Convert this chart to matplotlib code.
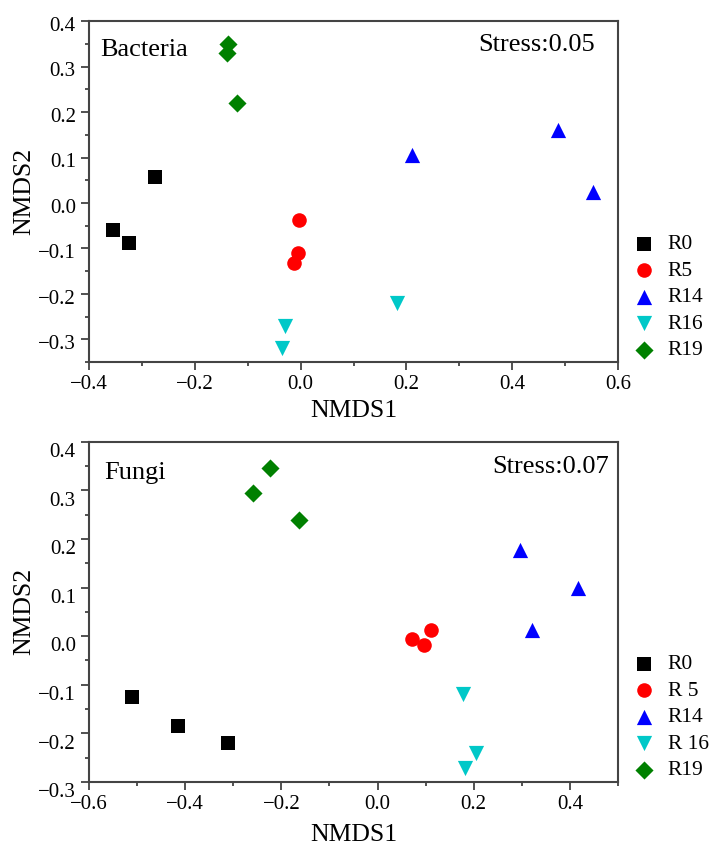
import matplotlib
matplotlib.use("Agg")
import matplotlib.pyplot as plt
import matplotlib.transforms as mtransforms
from matplotlib.ticker import MultipleLocator

plt.rcParams['font.family'] = ['Liberation Serif', 'DejaVu Serif']

groups = ["R0", "R5", "R14", "R16", "R19"]
fungi_labels = ["R0", "R 5", "R14", "R 16", "R19"]
colors = ["black", "red", "blue", "#00c8c8", "green"]
markers = ["s", "o", "^", "v", "D"]
sizes = [95, 110, 120, 120, 85]

# Bacteria NMDS coordinates
bac_x = {
    "R0": [-0.355, -0.325, -0.275],
    "R5": [-0.003, -0.005, -0.012],
    "R14": [0.21, 0.486, 0.552],
    "R16": [-0.03, -0.035, 0.183],
    "R19": [-0.137, -0.14, -0.12],
}
bac_y = {
    "R0": [-0.06, -0.088, 0.058],
    "R5": [-0.038, -0.11, -0.133],
    "R14": [0.106, 0.16, 0.025],
    "R16": [-0.27, -0.32, -0.22],
    "R19": [0.35, 0.33, 0.22],
}

# Fungi NMDS coordinates
fun_x = {
    "R0": [-0.51, -0.414, -0.311],
    "R5": [0.072, 0.097, 0.111],
    "R14": [0.296, 0.416, 0.321],
    "R16": [0.177, 0.205, 0.182],
    "R19": [-0.224, -0.258, -0.163],
}
fun_y = {
    "R0": [-0.126, -0.186, -0.22],
    "R5": [-0.006, -0.018, 0.013],
    "R14": [0.178, 0.1, 0.012],
    "R16": [-0.119, -0.241, -0.272],
    "R19": [0.347, 0.294, 0.239],
}


def panel(ax, xs, ys, labels, name, stress, xlim, ylim, name_pos, stress_pos,
          ylab_shift, xpad):
    for g, lab, c, m, s in zip(groups, labels, colors, markers, sizes):
        ax.scatter(xs[g], ys[g], c=c, marker=m, s=s, label=lab, linewidths=0)
    ax.set_xlim(*xlim)
    ax.set_ylim(*ylim)
    ax.xaxis.set_major_locator(MultipleLocator(0.2))
    ax.xaxis.set_minor_locator(MultipleLocator(0.1))
    ax.yaxis.set_major_locator(MultipleLocator(0.1))
    ax.yaxis.set_minor_locator(MultipleLocator(0.05))
    ax.xaxis.set_major_formatter(lambda v, p: f"{v:.1f}".replace("-", "\u2212"))
    ax.yaxis.set_major_formatter(lambda v, p: f"{v:.1f}".replace("-", "\u2212"))
    ax.tick_params(which="both", direction="out", width=1.2, color="#333333",
                   labelsize=15, top=False, right=False)
    ax.tick_params(which="major", length=6)
    ax.tick_params(which="minor", length=3)
    # the y tick labels sit a little below their ticks in the original
    off = mtransforms.ScaledTranslation(0, -ylab_shift / 72, ax.figure.dpi_scale_trans)
    for lbl in ax.get_yticklabels():
        lbl.set_transform(lbl.get_transform() + off)
    for sp in ax.spines.values():
        sp.set_linewidth(1.5)
        sp.set_color("#444444")
    ax.set_xlabel("NMDS1", fontsize=18.5, labelpad=xpad)
    ax.set_ylabel("NMDS2", fontsize=18.5, labelpad=2)
    ax.text(name_pos[0], name_pos[1], name, transform=ax.transAxes, fontsize=19,
            va="center", ha="left")
    ax.text(stress_pos[0], stress_pos[1], stress, transform=ax.transAxes, fontsize=19,
            va="center", ha="right")
    ax.legend(loc="center left", bbox_to_anchor=(1.0, 0.19), frameon=False,
              fontsize=15.5, handletextpad=0.5, labelspacing=0.3,
              borderaxespad=0.2, handlelength=1.2)


fig = plt.figure(figsize=(7.13, 8.48), dpi=100)
ax1 = fig.add_axes([0.1248, 0.573, 0.742, 0.402])
ax2 = fig.add_axes([0.1248, 0.078, 0.742, 0.401])

panel(ax1, bac_x, bac_y, groups, "Bacteria", "Stress:0.05", (-0.4, 0.6), (-0.35, 0.4),
      (0.021, 0.915), (0.957, 0.93), 2, 4)
panel(ax2, fun_x, fun_y, fungi_labels, "Fungi", "Stress:0.07", (-0.6, 0.5), (-0.3, 0.4),
      (0.028, 0.909), (0.983, 0.926), 6, 7)

fig.savefig("out.png", dpi=100)
